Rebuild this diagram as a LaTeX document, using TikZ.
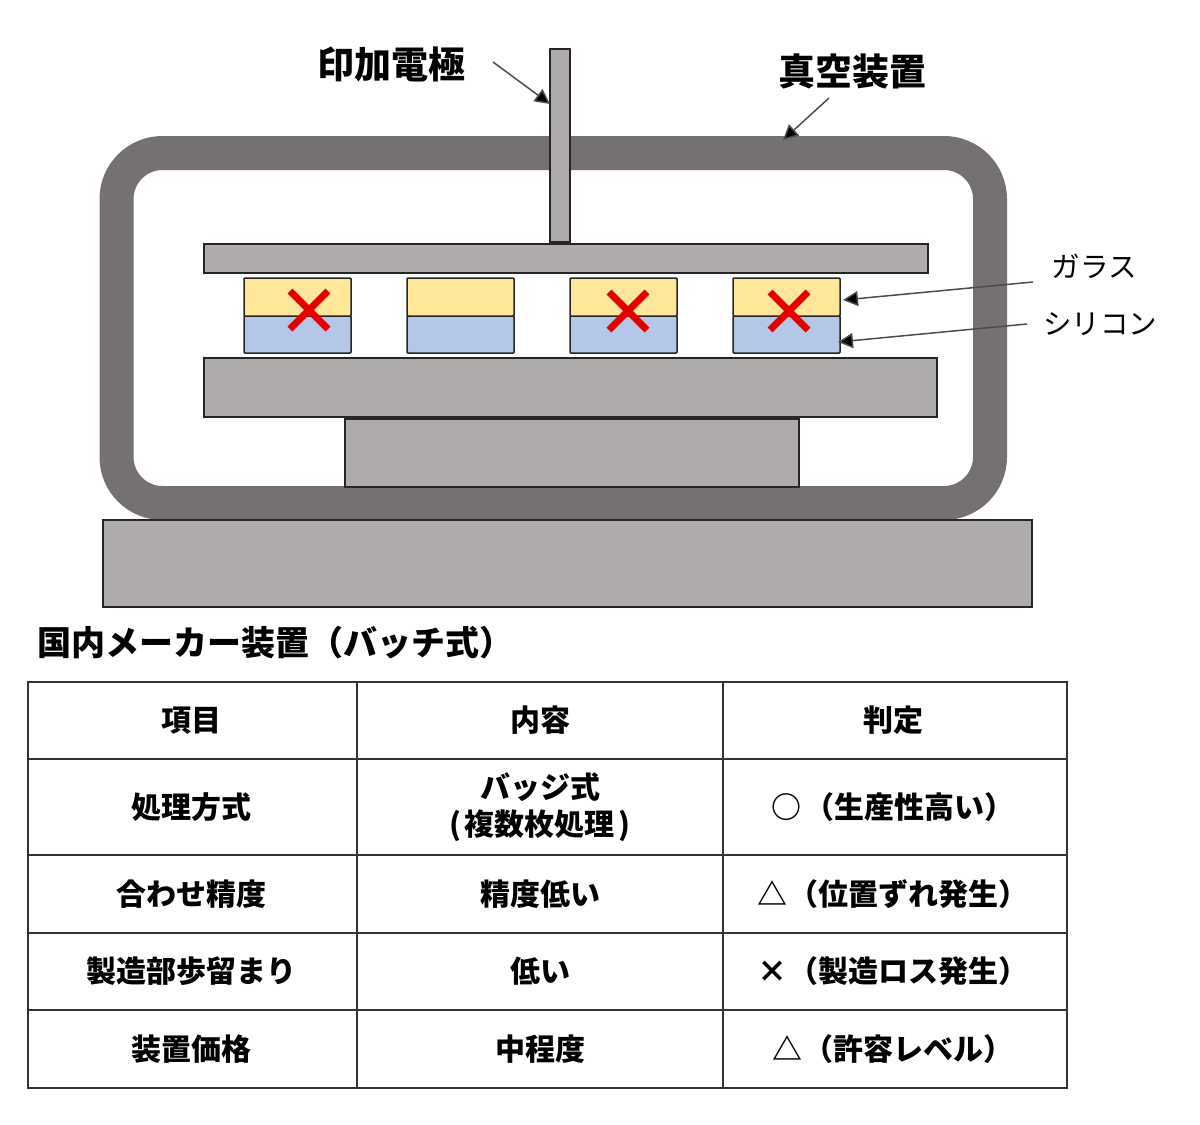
\documentclass[tikz,border=0pt]{standalone}
\usepackage{fontspec}
\setmainfont{Noto Sans CJK JP}
\usetikzlibrary{arrows.meta}
\definecolor{vesselgray}{HTML}{767171}
\definecolor{partgray}{HTML}{AFABAB}
\definecolor{glassyellow}{HTML}{FFE699}
\definecolor{siliconblue}{HTML}{B4C7E7}
\definecolor{edgedark}{HTML}{262626}
\tikzset{
    part/.style = {draw=edgedark, line width=1.5pt, fill=partgray},
    glass/.style = {draw=edgedark, line width=1.5pt, fill=glassyellow, rounded corners=1pt},
    silicon/.style = {draw=edgedark, line width=1.5pt, fill=siliconblue, rounded corners=1pt},
    badmark/.style = {draw=red!90!black, line width=7pt},
    pointer/.style = {draw=black!70, line width=1.5pt, -{Triangle[length=15pt,width=15pt,fill=black]}},
    biglabel/.style = {font=\fontsize{37}{37}\selectfont\bfseries, inner sep=0pt},
    titlelabel/.style = {font=\fontsize{34}{34}\selectfont\bfseries, inner sep=0pt},
    smalllabel/.style = {font=\fontsize{28.5}{28.5}\selectfont, inner sep=0pt},
    cell/.style = {draw=black!80, line width=1.8pt, anchor=north west, align=center, inner sep=0pt, outer sep=0pt,
        font=\fontsize{30}{37}\selectfont\bfseries}
}
\begin{document}
\begin{tikzpicture}[x=1pt, y=-1pt]
    \useasboundingbox (0,0) rectangle (1200,1125);
    % chamber and stage
    \draw[vesselgray, line width=34pt, rounded corners=46pt] (116.5,153) rectangle (990,503);
    \draw[part] (103,520) rectangle (1032,607);
    \draw[part] (345,419) rectangle (799,487);
    \draw[part] (204,358) rectangle (937,417);
    \draw[part] (204,244) rectangle (928,273);
    \node[part, minimum width=20pt, minimum height=193pt, inner sep=0pt, outer sep=0pt, anchor=north] (electrode) at (560,49) {};
    % wafers
    \foreach \name/\x in {a/244, b/407, c/570, d/733} {
        \node[silicon, minimum width=107pt, minimum height=37pt, inner sep=0pt, outer sep=0pt, anchor=north west] (si\name) at (\x,316) {};
        \node[glass, minimum width=107pt, minimum height=38pt, inner sep=0pt, outer sep=0pt, anchor=north west] (gl\name) at (\x,278) {};
    }
    \foreach \x/\y in {309/310, 628/311, 789/311} {
        \draw[badmark] (\x-19,\y-19) -- (\x+19,\y+19);
        \draw[badmark] (\x-19,\y+19) -- (\x+19,\y-19);
    }
    % labels
    \node[biglabel] (lbelectrode) at (391,64) {印加電極};
    \node[biglabel] (lbvessel) at (852,71) {真空装置};
    \node[smalllabel] (lbglass) at (1094,266) {ガラス};
    \node[smalllabel] (lbsilicon) at (1100,324) {シリコン};
    \coordinate (vesseltop) at (783,140);
    \coordinate (electip) at (550,104);
    \coordinate (glasstip) at (843,300);
    \coordinate (sitip) at (838,342);
    \coordinate (elecstart) at (493,62);
    \coordinate (vesselstart) at (829,98);
    \coordinate (glassstart) at (1033,282);
    \coordinate (sistart) at (1027,324);
    \draw[pointer] (elecstart) -- (electip);
    \draw[pointer] (vesselstart) -- (vesseltop);
    \draw[pointer] (glassstart) -- (glasstip);
    \draw[pointer] (sistart) -- (sitip);
    % table
    \node[titlelabel, anchor=west] (title) at (37,643) {国内メーカー装置（バッチ式）};
    \foreach \id/\y/\h/\a/\b/\c in {
        r0/682/77/項目/内容/判定,
        r1/759/96/処理方式/{バッジ式\\(\kern4pt 複数枚処理\kern4pt)}/○\kern4pt（生産性高い）,
        r2/855/78/合わせ精度/精度低い/△\kern2pt（位置ずれ発生）,
        r3/933/77/製造部歩留まり/低い/×\kern2pt（製造ロス発生）,
        r4/1010/78/装置価格/中程度/△\kern2pt（許容レベル）} {
        \node[cell, minimum width=329pt, minimum height=\h pt] (\id a) at (28,\y) {\a\hspace*{3pt}};
        \node[cell, minimum width=366pt, minimum height=\h pt] (\id b) at (357,\y) {\b};
        \node[cell, minimum width=344pt, minimum height=\h pt] (\id c) at (723,\y) {\c\hspace*{4pt}};
    }
\end{tikzpicture}
\end{document}
